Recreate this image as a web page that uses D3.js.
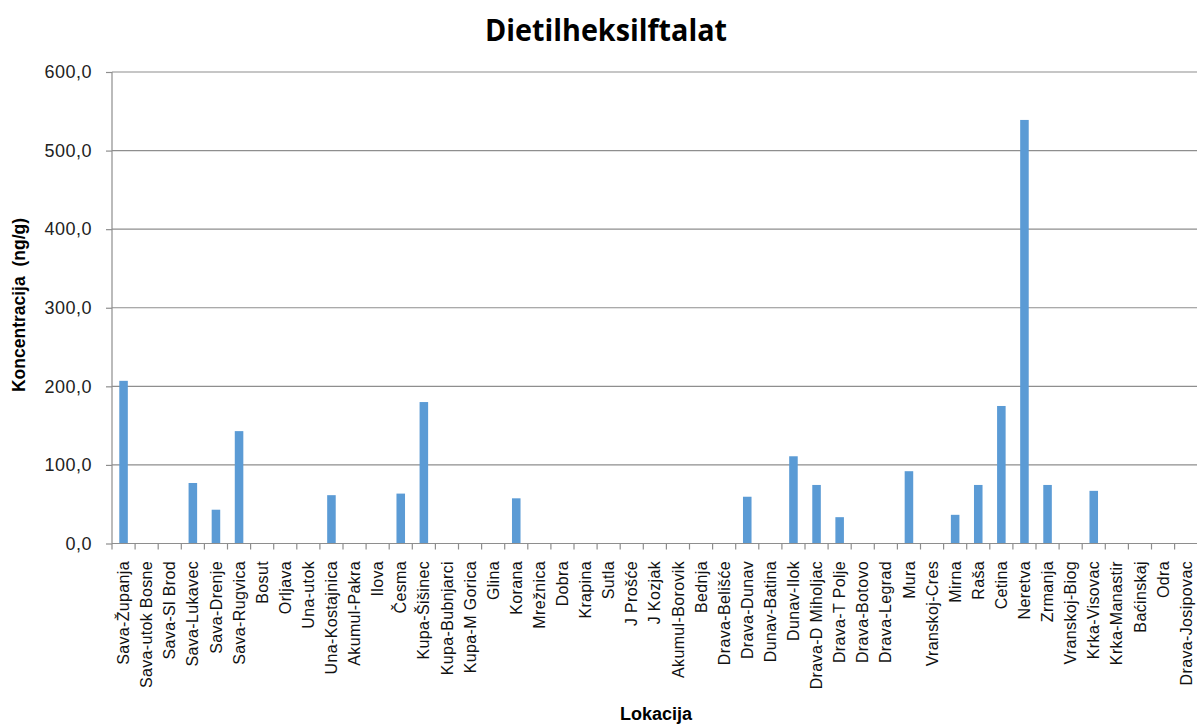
<!DOCTYPE html>
<html>
<head>
<meta charset="utf-8">
<script src="https://cdn.jsdelivr.net/npm/d3@7/dist/d3.min.js"></script>
<style>
  html, body { margin: 0; padding: 0; background: #fff; overflow: hidden; }
  svg { display: block; }
  text { white-space: pre; }
</style>
</head>
<body>
<svg id="chart" width="1197" height="725"></svg>
<script>
const categories = ["Sava-Županja","Sava-utok Bosne","Sava-Sl Brod","Sava-Lukavec","Sava-Drenje","Sava-Rugvica","Bosut","Orljava","Una-utok","Una-Kostajnica","Akumul-Pakra","Ilova","Česma","Kupa-Šišinec","Kupa-Bubnjarci","Kupa-M Gorica","Glina","Korana","Mrežnica","Dobra","Krapina","Sutla","J Prošće","J Kozjak","Akumul-Borovik","Bednja","Drava-Belišće","Drava-Dunav","Dunav-Batina","Dunav-Ilok","Drava-D Miholjac","Drava-T Polje","Drava-Botovo","Drava-Legrad","Mura","Vranskoj-Cres","Mirna","Raša","Cetina","Neretva","Zrmanja","Vranskoj-Biog","Krka-Visovac","Krka-Manastir","Baćinskaj","Odra","Drava-Josipovac"];
const values = [207,0,0,77,43,143,0,0,0,61.5,0,0,63.5,180,0,0,0,57.5,0,0,0,0,0,0,0,0,0,59.5,0,111,74.5,33.5,0,0,92,0,36.5,74.5,175,539,74.5,0,67,0,0,0,0];
const yTicks = [0,100,200,300,400,500,600];
const title = "Dietilheksilftalat";
const yTitle = "Koncentracija  (ng/g)";
const xTitle = "Lokacija";

const svg = d3.select("#chart");
const mLeft = 112, mTop = 72, mBottom = 543.5;
const band = 23.1;
const mRight = mLeft + band * categories.length;

const x = d3.scaleBand().domain(categories).range([mLeft, mRight]).paddingInner(0.63).paddingOuter(0.315);
const y = d3.scaleLinear().domain([0, 600]).range([mBottom, mTop]);

const fmt = v => d3.format(".1f")(v).replace(".", ",");

// gridlines
svg.append("g").selectAll("line").data(yTicks.filter(d => d > 0)).join("line")
  .attr("x1", mLeft).attr("x2", mRight)
  .attr("y1", d => y(d)).attr("y2", d => y(d))
  .attr("stroke", "#8e8e8e").attr("stroke-width", 1.2);

// bars
svg.append("g").selectAll("rect").data(categories).join("rect")
  .attr("x", d => x(d))
  .attr("width", x.bandwidth())
  .attr("y", (d, i) => y(values[i]))
  .attr("height", (d, i) => mBottom - y(values[i]))
  .attr("fill", "#5b9bd5");

// y axis
const yAxis = svg.append("g").attr("transform", `translate(${mLeft},0)`)
  .call(d3.axisLeft(y).tickValues(yTicks).tickFormat(fmt).tickSize(6).tickPadding(14));
yAxis.select(".domain").attr("stroke", "#8e8e8e").attr("stroke-width", 1.2).attr("d", `M0,${mBottom}V${mTop}`);
yAxis.selectAll(".tick line").attr("stroke", "#8e8e8e").attr("stroke-width", 1.2);
yAxis.selectAll(".tick text").attr("font-family", "Liberation Sans, Arial, sans-serif")
  .attr("font-size", 18).attr("fill", "#222").attr("letter-spacing", 0.5);

// x axis: baseline and boundary ticks
const bounds = d3.range(categories.length + 1).map(i => mLeft + i * band);
const xg = svg.append("g");
xg.append("line").attr("x1", mLeft).attr("x2", mRight).attr("y1", mBottom).attr("y2", mBottom)
  .attr("stroke", "#8e8e8e").attr("stroke-width", 1.2);
xg.selectAll("line.tk").data(bounds).join("line").attr("class", "tk")
  .attr("x1", d => d).attr("x2", d => d).attr("y1", mBottom).attr("y2", mBottom + 6)
  .attr("stroke", "#8e8e8e").attr("stroke-width", 1.2);

// category labels
svg.append("g").selectAll("text").data(categories).join("text")
  .attr("transform", d => `translate(${x(d) + x.bandwidth() / 2},561) rotate(-90)`)
  .attr("text-anchor", "end")
  .attr("dy", "0.35em")
  .attr("font-family", "Liberation Sans, Arial, sans-serif")
  .attr("font-size", 16)
  .attr("letter-spacing", 0.35)
  .attr("fill", "#111")
  .text(d => d);

// title
svg.append("text")
  .attr("x", 606).attr("y", 41)
  .attr("text-anchor", "middle")
  .attr("font-family", "Open Sans, sans-serif")
  .attr("font-weight", "bold")
  .attr("font-size", 31)
  .attr("textLength", 242)
  .attr("lengthAdjust", "spacingAndGlyphs")
  .attr("fill", "#000")
  .text(title);

// y title
svg.append("text")
  .attr("transform", "translate(25,305) rotate(-90)")
  .attr("text-anchor", "middle")
  .attr("font-family", "Liberation Sans, Arial, sans-serif")
  .attr("font-weight", "bold")
  .attr("font-size", 17.5)
  .attr("fill", "#000")
  .text(yTitle);

// x title
svg.append("text")
  .attr("x", 656).attr("y", 720)
  .attr("text-anchor", "middle")
  .attr("font-family", "Liberation Sans, Arial, sans-serif")
  .attr("font-weight", "bold")
  .attr("font-size", 18)
  .attr("fill", "#000")
  .text(xTitle);
</script>
</body>
</html>
